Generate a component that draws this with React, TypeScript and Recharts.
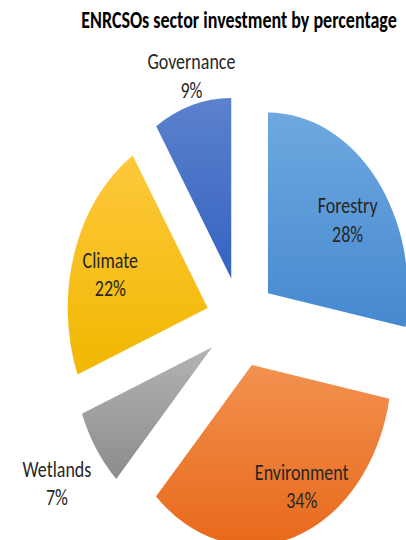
import React from "react";
import { PieChart, Pie, Cell, Sector } from "recharts";

const sectors = ["Forestry", "Environment", "Wetlands", "Climate", "Governance"];
const shares = [28, 34, 7, 22, 9];

const chartTitle = "ENRCSOs sector investment by percentage";

// top / bottom gradient stops per slice
const topColors = ["#6EA8DF", "#F2914F", "#B3B3B3", "#FEC83C", "#5C81CD"];
const bottomColors = ["#4689CF", "#E8691A", "#8C8C8C", "#F0B800", "#3563C2"];

// the source picture was stretched vertically
const STRETCH = 1.29;
const W = 406;
const H = 540;
const EXPLODE = 0.25;

// where Excel put each data label: radius factor and angle nudge
const LABEL_LAYOUT: Record<string, { r: number; turn: number }> = {
  Forestry: { r: 0.7, turn: -4 },
  Environment: { r: 0.76, turn: 10 },
  Wetlands: { r: 1.34, turn: 0 },
  Climate: { r: 0.72, turn: 3 },
  Governance: { r: 1.16, turn: -2 },
};

const data = sectors.map((name, i) => ({ name, value: shares[i] }));

const RAD = Math.PI / 180;

const ExplodedSector = (props: any) => {
  const { cx, cy, startAngle, endAngle, outerRadius } = props;
  const mid = (startAngle + endAngle) / 2;
  const d = outerRadius * EXPLODE;
  const dx = Math.cos(-mid * RAD) * d;
  const dy = Math.sin(-mid * RAD) * d;
  return <Sector {...props} cx={cx + dx} cy={cy + dy} stroke="none" />;
};

const renderLabel = (props: any) => {
  const { cx, cy, midAngle, outerRadius, name, percent } = props;
  const layout = LABEL_LAYOUT[name] || { r: 0.7, turn: 0 };
  const d = outerRadius * EXPLODE;
  const ox = cx + Math.cos(-midAngle * RAD) * d;
  const oy = cy + Math.sin(-midAngle * RAD) * d;
  const a = midAngle + layout.turn;
  const x = ox + Math.cos(-a * RAD) * outerRadius * layout.r;
  const y = oy + Math.sin(-a * RAD) * outerRadius * layout.r;
  return (
    <text
      x={x}
      y={y}
      textAnchor="middle"
      fill="#262626"
      fontFamily="Carlito, Calibri, Lato, sans-serif"
      fontSize={18}
    >
      <tspan x={x} dy={-11} dominantBaseline="central">
        {name}
      </tspan>
      <tspan x={x} dy={22} dominantBaseline="central">
        {Math.round(percent * 100)}%
      </tspan>
    </text>
  );
};

export default function App() {
  const innerH = H / STRETCH;
  return (
    <div
      style={{
        position: "absolute",
        left: 0,
        top: 0,
        width: W,
        height: H,
        overflow: "hidden",
        background: "#ffffff",
      }}
    >
      <div
        style={{
          position: "relative",
          width: W,
          height: innerH,
          transform: `scaleY(${STRETCH})`,
          transformOrigin: "0 0",
        }}
      >
        <div
          style={{
            position: "absolute",
            left: 239,
            top: 5,
            transform: "translateX(-50%)",
            whiteSpace: "nowrap",
            fontFamily: "Carlito, Calibri, Lato, sans-serif",
            fontWeight: 700,
            fontSize: 18,
            color: "#000000",
          }}
        >
          {chartTitle}
        </div>
        <PieChart width={W} height={innerH} margin={{ top: 0, right: 0, bottom: 0, left: 0 }}>
          <defs>
            {sectors.map((s, i) => (
              <linearGradient key={s} id={`grad-${i}`} x1="0" y1="0" x2="0" y2="1">
                <stop offset="0%" stopColor={topColors[i]} />
                <stop offset="100%" stopColor={bottomColors[i]} />
              </linearGradient>
            ))}
          </defs>
          <Pie
            data={data}
            dataKey="value"
            nameKey="name"
            cx={241}
            cy={249.6}
            outerRadius={140}
            startAngle={90}
            endAngle={-270}
            stroke="none"
            shape={ExplodedSector}
            label={renderLabel}
            labelLine={false}
            isAnimationActive={false}
          >
            {data.map((entry, i) => (
              <Cell key={entry.name} fill={`url(#grad-${i})`} />
            ))}
          </Pie>
        </PieChart>
      </div>
    </div>
  );
}
